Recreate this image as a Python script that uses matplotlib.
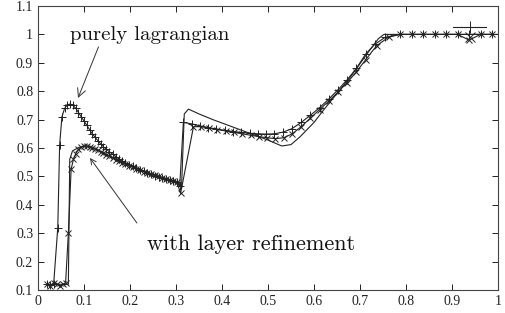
import matplotlib
matplotlib.use("Agg")
import matplotlib.pyplot as plt
from matplotlib.lines import Line2D

# ---- data ----
lag_x = [0.020, 0.027, 0.034, 0.043, 0.047, 0.052, 0.058, 0.064, 0.070, 0.076, 0.082,
         0.088, 0.094, 0.100, 0.106, 0.112, 0.118, 0.124, 0.130, 0.136, 0.142, 0.148,
         0.155, 0.162, 0.169, 0.176, 0.183, 0.190, 0.198, 0.206, 0.214, 0.222, 0.230,
         0.238, 0.246, 0.254, 0.262, 0.270, 0.278, 0.286, 0.294, 0.302, 0.308, 0.316,
         0.334, 0.352, 0.370, 0.388, 0.406, 0.424, 0.442, 0.460, 0.478, 0.496, 0.514,
         0.533, 0.552, 0.572, 0.592, 0.612, 0.632, 0.652, 0.672, 0.692, 0.712, 0.732,
         0.755, 0.787, 0.812, 0.837, 0.862, 0.887, 0.912, 0.937, 0.962, 0.987]
lag_y = [0.120, 0.118, 0.120, 0.320, 0.610, 0.710, 0.740, 0.752, 0.755, 0.750, 0.740,
         0.725, 0.710, 0.695, 0.680, 0.665, 0.650, 0.638, 0.626, 0.615, 0.605, 0.596,
         0.587, 0.578, 0.570, 0.562, 0.555, 0.548, 0.541, 0.535, 0.529, 0.523, 0.518,
         0.513, 0.508, 0.503, 0.499, 0.495, 0.491, 0.487, 0.484, 0.480, 0.465, 0.690,
         0.685, 0.678, 0.672, 0.667, 0.662, 0.658, 0.655, 0.652, 0.650, 0.649, 0.650,
         0.656, 0.668, 0.690, 0.715, 0.742, 0.772, 0.805, 0.840, 0.880, 0.930, 0.965,
         0.990, 1.000, 1.000, 1.000, 1.000, 1.000, 1.000, 1.000, 1.000, 1.000]

ref_x = [0.020, 0.027, 0.034, 0.041, 0.048, 0.055, 0.060, 0.066, 0.072, 0.077, 0.082,
         0.088, 0.094, 0.100, 0.106, 0.112, 0.118, 0.124, 0.130, 0.136, 0.142, 0.148,
         0.155, 0.162, 0.169, 0.176, 0.183, 0.190, 0.198, 0.206, 0.214, 0.222, 0.230,
         0.238, 0.246, 0.254, 0.262, 0.270, 0.278, 0.286, 0.294, 0.302, 0.310, 0.338,
         0.355, 0.372, 0.390, 0.408, 0.426, 0.444, 0.462, 0.480, 0.498, 0.516, 0.534,
         0.553, 0.572, 0.592, 0.612, 0.632, 0.652, 0.672, 0.692, 0.712, 0.736, 0.762,
         0.787, 0.812, 0.837, 0.862, 0.887, 0.912, 0.937, 0.962, 0.987]
ref_y = [0.120, 0.115, 0.125, 0.120, 0.115, 0.120, 0.125, 0.300, 0.525, 0.560, 0.580,
         0.595, 0.603, 0.607, 0.607, 0.605, 0.601, 0.597, 0.592, 0.587, 0.582, 0.577,
         0.571, 0.565, 0.559, 0.553, 0.548, 0.543, 0.537, 0.532, 0.527, 0.522, 0.517,
         0.512, 0.508, 0.504, 0.500, 0.496, 0.492, 0.488, 0.484, 0.480, 0.440, 0.675,
         0.675, 0.670, 0.665, 0.660, 0.655, 0.650, 0.645, 0.640, 0.636, 0.633, 0.636,
         0.650, 0.675, 0.705, 0.735, 0.765, 0.797, 0.830, 0.868, 0.910, 0.960, 0.990,
         1.000, 1.000, 1.000, 1.000, 1.000, 1.000, 0.980, 1.000, 1.000]

sol_x = [0.020, 0.066, 0.069, 0.075, 0.090, 0.100, 0.120, 0.150, 0.200, 0.250, 0.300,
         0.310, 0.312, 0.318, 0.327, 0.350, 0.380, 0.420, 0.460, 0.500, 0.530, 0.550,
         0.570, 0.600, 0.620, 0.640, 0.660, 0.680, 0.700, 0.720, 0.740, 0.752, 0.800, 1.000]
sol_y = [0.120, 0.120, 0.560, 0.590, 0.603, 0.606, 0.601, 0.576, 0.538, 0.506, 0.482,
         0.470, 0.460, 0.720, 0.737, 0.720, 0.700, 0.676, 0.652, 0.628, 0.607, 0.612,
         0.640, 0.690, 0.732, 0.772, 0.812, 0.852, 0.897, 0.942, 0.985, 1.000, 1.000, 1.000]

x_ticks = [0, 0.1, 0.2, 0.3, 0.4, 0.5, 0.6, 0.7, 0.8, 0.9, 1.0]
x_labels = ["0", "0.1", "0.2", "0.3", "0.4", "0.5", "0.6", "0.7", "0.8", "0.9", "1"]
y_ticks = [0.1, 0.2, 0.3, 0.4, 0.5, 0.6, 0.7, 0.8, 0.9, 1.0, 1.1]
y_labels = ["0.1", "0.2", "0.3", "0.4", "0.5", "0.6", "0.7", "0.8", "0.9", "1", "1.1"]

plt.rcParams['font.family'] = ['Liberation Serif', 'DejaVu Serif']

fig = plt.figure(figsize=(5.05, 3.13), dpi=100)
ax = fig.add_axes([38/505, 1-290/313, 460/505, 284/313])

lc = '#222222'
ax.plot(sol_x, sol_y, color=lc, lw=0.8)
h1, = ax.plot(lag_x, lag_y, color=lc, lw=0.8, marker='+', ms=6, mew=0.7)
h2, = ax.plot(ref_x, ref_y, color=lc, lw=0.8, marker='x', ms=5, mew=0.7)

ax.set_xlim(0, 1)
ax.set_ylim(0.1, 1.1)
ax.set_xticks(x_ticks)
ax.set_xticklabels(x_labels)
ax.set_yticks(y_ticks)
ax.set_yticklabels(y_labels)
ax.tick_params(direction='in', top=True, right=True, length=4, width=0.7,
               labelsize=10, colors='#222222')
for s in ax.spines.values():
    s.set_linewidth(0.8)
    s.set_color('#444444')

# key samples (gnuplot style, no titles)
k1 = Line2D([], [], color=lc, lw=0.8, marker='+', ms=8, mew=0.7)
k2 = Line2D([], [], color=lc, lw=0, marker='x', ms=7, mew=0.7)
ax.legend([k1, k2], ['', ''], loc='upper right', bbox_to_anchor=(0.974, 0.94),
          frameon=False, handlelength=3.4, handletextpad=0, fontsize=7,
          labelspacing=0.15, borderpad=0, borderaxespad=0)

cm = ['cmr10', 'DejaVu Serif']
ax.annotate('purely lagrangian', xy=(0.087, 0.776), xytext=(0.07, 0.98),
            fontsize=15, family=cm, color='#111111', va='baseline',
            arrowprops=dict(arrowstyle='->', color='#333333', lw=0.7,
                            shrinkA=0, shrinkB=0, relpos=(0.18, -0.1)))
ax.annotate('', xy=(0.113, 0.565), xytext=(0.215, 0.336),
            arrowprops=dict(arrowstyle='->', color='#333333', lw=0.7,
                            shrinkA=0, shrinkB=0))
ax.text(0.237, 0.241, 'with layer refinement', fontsize=16, family=cm,
        color='#111111', va='baseline')

fig.savefig('out.png', dpi=100)
